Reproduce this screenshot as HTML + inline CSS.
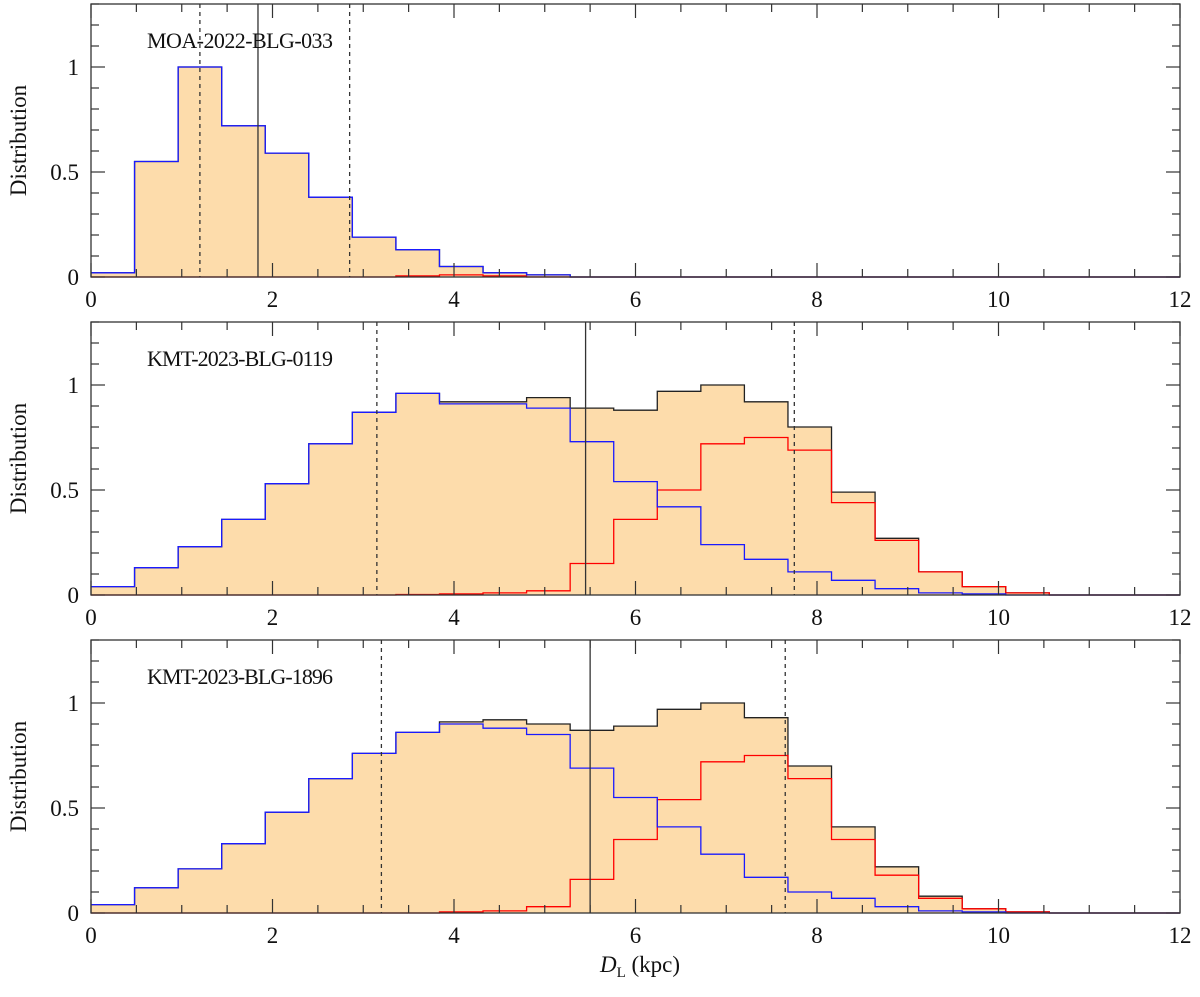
<!DOCTYPE html>
<html><head><meta charset="utf-8"><style>
body{margin:0;background:#fff}
svg text{font-family:"Liberation Serif",serif;fill:#111}
</style></head><body>
<svg id="chart" width="1200" height="992" xmlns="http://www.w3.org/2000/svg"></svg>
<script>
const binEdges0 = 0, binWidth = 0.48, nBins = 25;
const panelNames = ["MOA-2022-BLG-033","KMT-2023-BLG-0119","KMT-2023-BLG-1896"];
const totalP1 = [0.02,0.55,1.0,0.72,0.59,0.38,0.19,0.13,0.05,0.02,0.01,0,0,0,0,0,0,0,0,0,0,0,0,0,0];
const blueP1  = [0.02,0.55,1.0,0.72,0.59,0.38,0.19,0.13,0.05,0.02,0.01,0,0,0,0,0,0,0,0,0,0,0,0,0,0];
const redP1   = [0,0,0,0,0,0,0,0.005,0.01,0.005,0,0,0,0,0,0,0,0,0,0,0,0,0,0,0];
const totalP2 = [0.04,0.13,0.23,0.36,0.53,0.72,0.87,0.96,0.92,0.92,0.94,0.89,0.88,0.97,1.0,0.92,0.80,0.49,0.27,0.11,0.04,0.01,0,0,0];
const blueP2  = [0.04,0.13,0.23,0.36,0.53,0.72,0.87,0.96,0.91,0.91,0.89,0.73,0.54,0.42,0.24,0.17,0.11,0.07,0.03,0.01,0.005,0,0,0,0];
const redP2   = [0,0,0,0,0,0,0,0.002,0.005,0.01,0.02,0.15,0.36,0.50,0.72,0.75,0.69,0.44,0.26,0.11,0.04,0.01,0,0,0];
const totalP3 = [0.04,0.12,0.21,0.33,0.48,0.64,0.76,0.86,0.91,0.92,0.90,0.87,0.89,0.97,1.0,0.93,0.70,0.41,0.22,0.08,0.02,0.005,0,0,0];
const blueP3  = [0.04,0.12,0.21,0.33,0.48,0.64,0.76,0.86,0.90,0.88,0.85,0.69,0.55,0.41,0.28,0.17,0.10,0.07,0.03,0.01,0.005,0,0,0,0];
const redP3   = [0,0,0,0,0,0,0,0,0.005,0.01,0.03,0.16,0.35,0.54,0.72,0.75,0.64,0.35,0.18,0.07,0.02,0.005,0,0,0];
const solidLines = [1.84,5.45,5.5];
const dottedLines = [[1.2,2.85],[3.15,7.75],[3.2,7.65]];
const xTicks = [0,2,4,6,8,10,12];
const yTicks = [0,0.5,1];
const yTickLabels = ["0","0.5","1"];

const NS="http://www.w3.org/2000/svg";
const svg=document.getElementById('chart');
function mk(tag,attrs,parent){const e=document.createElementNS(NS,tag);for(const k in attrs)e.setAttribute(k,attrs[k]);(parent||svg).appendChild(e);return e;}
const L=91,R=1180,H=273,tops=[4,322,640],YMAX=1.3;
const sx=v=>L+(v/12)*(R-L);
const totals=[totalP1,totalP2,totalP3],blues=[blueP1,blueP2,blueP3],reds=[redP1,redP2,redP3];
function stepPath(vals,sy){let d="";for(let i=0;i<vals.length;i++){const x0=sx(binEdges0+i*binWidth),x1=sx(binEdges0+(i+1)*binWidth),y=sy(vals[i]);d+=(i===0?"M":"L")+x0+","+y+"L"+x1+","+y;}return d;}
for(let p=0;p<3;p++){
  const T=tops[p],B=T+H;
  const sy=v=>B-(v/YMAX)*H;
  const g=mk('g',{});
  
  
  const fill=mk('path',{d:stepPath(totals[p],sy)+"L"+sx(12)+","+B+"L"+sx(0)+","+B+"Z",fill:"#fddcab",stroke:"none"},g);
  
  
  const tl=mk('path',{d:stepPath(totals[p],sy),fill:"none",stroke:"#222","stroke-width":1.3},g);
  
  
  const rl=mk('path',{d:stepPath(reds[p],sy),fill:"none",stroke:"#f00","stroke-width":1.3},g);
  
  
  const bl=mk('path',{d:stepPath(blues[p],sy),fill:"none",stroke:"#1a1aff","stroke-width":1.3},g);
  
  
  const sl=mk('line',{x1:sx(solidLines[p]),x2:sx(solidLines[p]),y1:T,y2:B,stroke:"#333","stroke-width":1.3},g);
  
  
  dottedLines[p].forEach(v=>{const dl=mk('line',{x1:sx(v),x2:sx(v),y1:T,y2:B,stroke:"#333","stroke-width":1.3,"stroke-dasharray":"4,4"},g);
    
    });
  const fr=mk('rect',{x:L,y:T,width:R-L,height:H,fill:"none",stroke:"#333","stroke-width":1.3},g);
  
  
  for(let k=0;k<=24;k++){const v=k*0.5,x=sx(v),len=(k%4===0)?14:8;
    mk('line',{x1:x,x2:x,y1:B,y2:B-len,stroke:"#333","stroke-width":1.2},g);
    mk('line',{x1:x,x2:x,y1:T,y2:T+len,stroke:"#333","stroke-width":1.2},g);}
  for(let k=0;k<=13;k++){const v=k*0.1,y=sy(v),len=(k%5===0)?14:8;
    mk('line',{x1:L,x2:L+len,y1:y,y2:y,stroke:"#333","stroke-width":1.2},g);
    mk('line',{x1:R,x2:R-len,y1:y,y2:y,stroke:"#333","stroke-width":1.2},g);}
  xTicks.forEach(v=>{const t=mk('text',{x:sx(v),y:B+30,"text-anchor":"middle","font-size":23},g);t.textContent=v;
    
    });
  yTicks.forEach((v,i)=>{const t=mk('text',{x:L-12,y:sy(v)+8,"text-anchor":"end","font-size":23},g);t.textContent=yTickLabels[i];
    
    });
  const yl=mk('text',{x:26,y:T+H/2,"text-anchor":"middle","font-size":23,transform:"rotate(-90 26 "+(T+H/2)+")"},g);
  yl.textContent="Distribution";
  
  
  const nm=mk('text',{x:147,y:T+44,"font-size":22,textLength:186,lengthAdjust:"spacing"},g);
  nm.textContent=panelNames[p];
  
  
}
const xl=mk('text',{x:640,y:972,"text-anchor":"middle","font-size":23});
xl.innerHTML='<tspan font-style="italic">D</tspan><tspan font-size="15" dy="5">L</tspan><tspan dy="-5"> (kpc)</tspan>';


</script>
</body></html>
